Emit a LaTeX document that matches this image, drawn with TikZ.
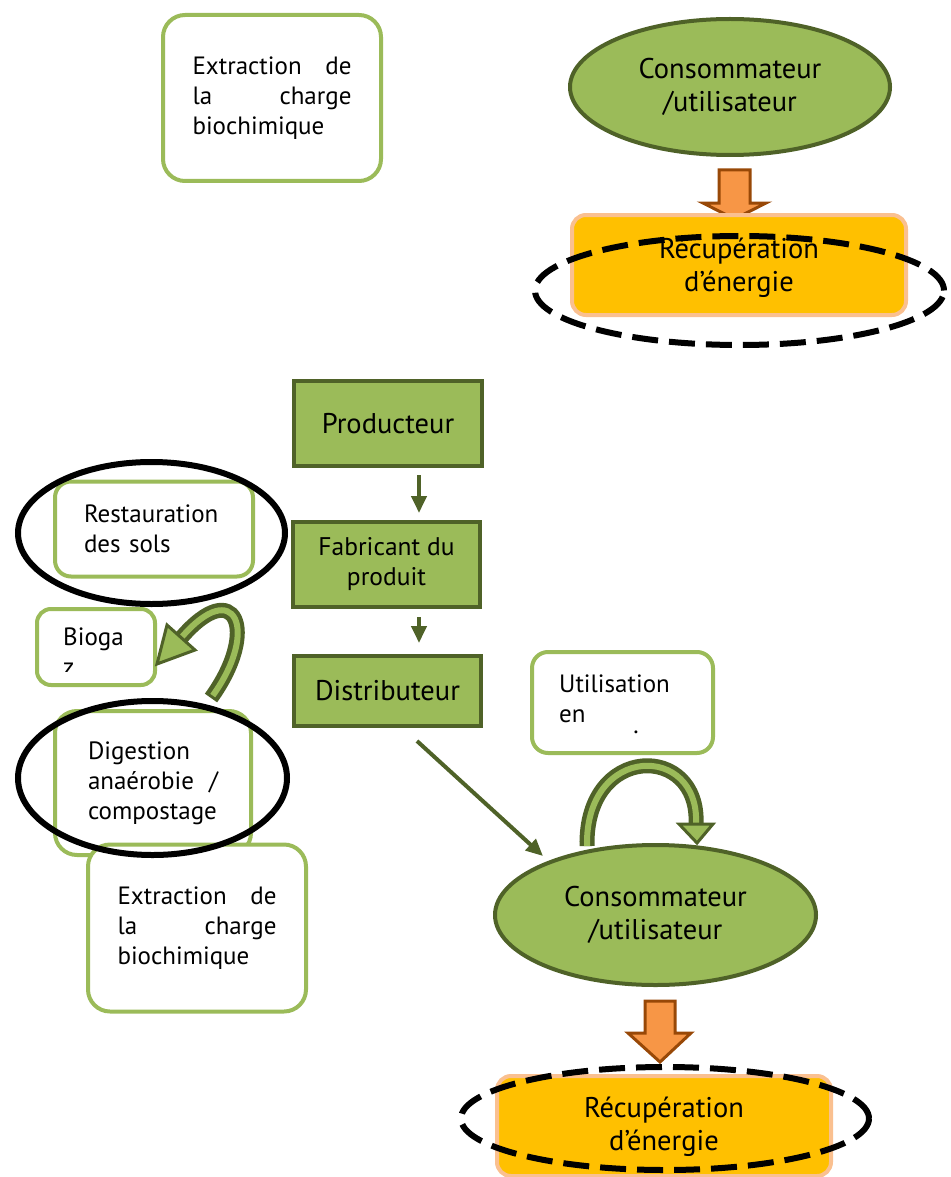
\documentclass[tikz,border=0pt]{standalone}
\usepackage{fontspec}
\setmainfont{PT Sans}
\usetikzlibrary{arrows.meta,shapes.geometric,calc}
\definecolor{leaf}{HTML}{9BBB59}
\definecolor{olive}{HTML}{4F6228}
\definecolor{amber}{HTML}{FFC000}
\definecolor{peach}{HTML}{FAC090}
\definecolor{carrot}{HTML}{F79646}
\definecolor{rust}{HTML}{984807}
\newcommand{\bigtxt}{\fontsize{28.5}{33}\selectfont}
\newcommand{\boxtxt}{\fontsize{25}{30}\selectfont}
\newcommand{\midtxt}{\fontsize{25.5}{30}\selectfont}
\begin{document}
\begin{tikzpicture}[x=1pt,y=-1pt,
  rolebox/.style={draw=olive, fill=leaf, line width=4pt, inner sep=0pt, align=center},
  notebox/.style={draw=leaf, fill=white, line width=4pt, inner sep=0pt, rounded corners=22pt},
  actor/.style={ellipse, draw=olive, fill=leaf, line width=4pt, inner sep=0pt, align=center, font=\bigtxt},
  energybox/.style={draw=peach, fill=amber, line width=4pt, rounded corners=14pt, inner sep=0pt},
  dashring/.style={ellipse, draw=black, line width=6pt, dash pattern=on 26pt off 11pt, inner sep=0pt},
  ring/.style={ellipse, draw=black, line width=6pt, inner sep=0pt},
  flow/.style={draw=olive, line width=4pt, -{Triangle[length=17pt,width=15pt]}},
  blockarrow/.style={fill=carrot, draw=rust, line width=3pt, line join=miter},
  bendout/.style={draw=olive, line width=15pt},
  bendin/.style={draw=leaf, line width=6pt},
  bendhead/.style={fill=leaf, draw=olive, line width=3pt, line join=miter},
  plain/.style={inner sep=0pt, align=center, font=\bigtxt}]
\useasboundingbox (0,0) rectangle (950,1177);

% ---------- upper group ----------
\node[notebox, minimum width=218pt, minimum height=166pt,
      text width=159pt, align=justify, font=\boxtxt] (ext1) at (272,98)
  {Extraction de\linebreak la charge\linebreak biochimique};

\node[actor, minimum width=320pt, minimum height=136pt] (cons1) at (730,87)
  {Consommateur\\/utilisateur};

\draw[blockarrow] (719,170) -- (750,170) -- (750,203) -- (766,203) -- (734.5,219)
  -- (703,203) -- (719,203) -- cycle;

\node[energybox, minimum width=334pt, minimum height=100pt] (rec1) at (739,265) {};
\node[plain] (rec1txt) at (739,268) {Récupération\\d’énergie};
\node[dashring, minimum width=409pt, minimum height=109pt] (ring1) at (739.5,290.5) {};

% ---------- supply chain ----------
\node[rolebox, minimum width=188pt, minimum height=85pt, font=\bigtxt] (prod) at (388,423.5) {Producteur};
\node[rolebox, minimum width=187pt, minimum height=85pt, font=\midtxt] (fab) at (386.5,564.5) {Fabricant du\\produit};
\node[rolebox, minimum width=187pt, minimum height=70pt, font=\bigtxt] (dist) at (387.5,691) {Distributeur};

\coordinate (p1a) at (419,475);
\coordinate (p1b) at (419,513);
\coordinate (p2a) at (419,617);
\coordinate (p2b) at (419,643);
\draw[flow] (p1a) -- (p1b);
\draw[flow] (p2a) -- (p2b);

% ---------- left loop ----------
\node[notebox, rounded corners=16pt, minimum width=198pt, minimum height=95pt,
      text width=140pt, align=left, font=\boxtxt] (rest) at (154,529)
  {Restauration\\des sols};
\node[ring, minimum width=267pt, minimum height=142pt] (ringR) at (151.5,533) {};

\node[notebox, rounded corners=14pt, minimum width=118pt, minimum height=76pt] (bio) at (96,647) {};
\begin{scope}
  \clip (37,609) rectangle (155,671);
  \node[anchor=north west, inner sep=0pt, align=left, font=\boxtxt] (biotxt) at (63,628) {Bioga\\z};
\end{scope}

\coordinate (bgTail) at (211,698);
\coordinate (bgBase) at (181,638);
\draw[bendout] (bgTail) .. controls (260,630) and (235,575) .. (bgBase);
\draw[bendin, shorten <=3pt] (bgTail) .. controls (260,630) and (235,575) .. (bgBase);
\draw[bendhead] (167,625) -- (157,664) -- (195,650) -- cycle;

\node[notebox, minimum width=196pt, minimum height=144pt,
      text width=130pt, align=justify, font=\boxtxt] (dig) at (153,783)
  {Digestion\newline anaérobie /\linebreak compostage};
\node[notebox, minimum width=218pt, minimum height=167pt,
      text width=159pt, align=justify, font=\boxtxt] (ext2) at (197,928)
  {Extraction de\linebreak la charge\linebreak biochimique};
\node[ring, minimum width=269pt, minimum height=154pt] (ringD) at (152.5,778) {};

% ---------- consumer loop ----------
\node[notebox, rounded corners=16pt, minimum width=181pt, minimum height=101pt] (util) at (622.5,702.5) {};
\node[anchor=north west, inner sep=0pt, align=left, font=\boxtxt] (utiltxt) at (559,675) {Utilisation\\en};
\node[inner sep=0pt, font=\boxtxt] (utildot) at (636,732) {.};

\coordinate (uTail) at (587,846);
\coordinate (uBase) at (696,824);
\draw[bendout] (uTail) .. controls (585,743) and (700,743) .. (uBase);
\draw[bendin] (uTail) .. controls (585,743) and (700,743) .. (uBase);
\draw[bendhead] (679,824) -- (713,824) -- (697,843) -- cycle;

\coordinate (dA) at (417,741);
\coordinate (dB) at (543,856);
\draw[flow] (dA) -- (dB);

\node[actor, minimum width=321pt, minimum height=140pt] (cons2) at (655.5,915)
  {Consommateur\\/utilisateur};

\draw[blockarrow] (645,1001) -- (675,1001) -- (675,1033) -- (691,1033) -- (660,1062)
  -- (628,1033) -- (645,1033) -- cycle;

\node[energybox, minimum width=334pt, minimum height=100pt] (rec2) at (664,1126) {};
\node[plain] (rec2txt) at (664,1127) {Récupération\\d’énergie};
\node[dashring, minimum width=408pt, minimum height=103pt] (ring2) at (665,1118.5) {};
\end{tikzpicture}
\end{document}
